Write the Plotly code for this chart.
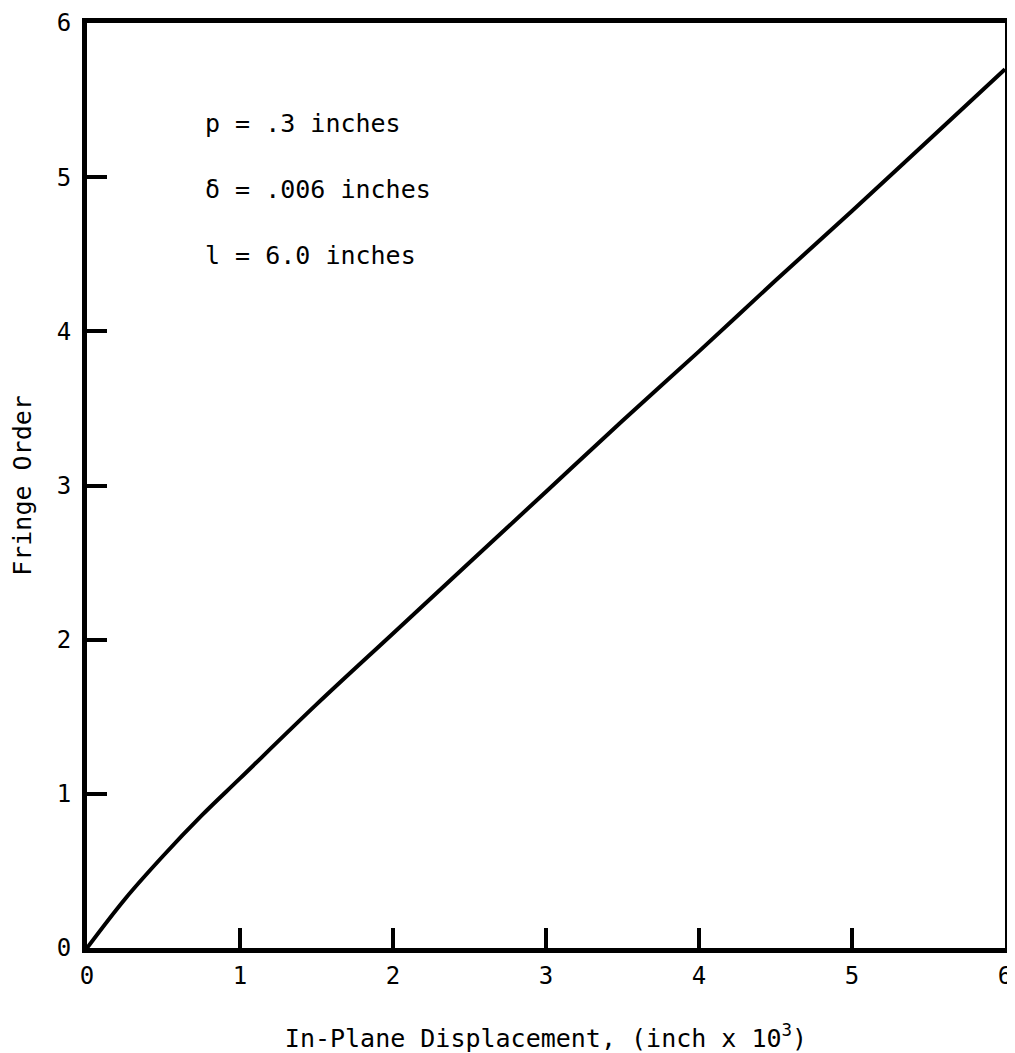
import plotly.graph_objects as go

# Data
displacement = [0, 0.25, 0.5, 0.75, 1.0, 1.5, 2.0, 2.5, 3.0, 3.5, 4.0, 4.5, 5.0, 5.5, 6.0]
fringe_order = [0, 0.32, 0.60, 0.86, 1.10, 1.58, 2.04, 2.50, 2.96, 3.42, 3.87, 4.33, 4.78, 5.24, 5.70]

x_ticks = [0, 1, 2, 3, 4, 5, 6]
x_tick_labels = ["0", "1", "2", "3", "4", "5", "6"]
y_ticks = [0, 1, 2, 3, 4, 5, 6]
y_tick_labels = ["0", "1", "2", "3", "4", "5", "6"]

notes = ["p = .3 inches", "δ = .006 inches", "l = 6.0 inches"]
note_y = [5.35, 4.92, 4.49]

FONT = "DejaVu Sans Mono"

fig = go.Figure()
fig.add_trace(go.Scatter(x=displacement, y=fringe_order, mode="lines",
                         line=dict(color="black", width=4, shape="spline"),
                         showlegend=False))

for t, yy in zip(notes, note_y):
    fig.add_annotation(x=0.76, y=yy, xref="x", yref="y", text=t, showarrow=False,
                       xanchor="left", yanchor="middle",
                       font=dict(family=FONT, size=25, color="black"))

axis_common = dict(showline=True, linecolor="black", linewidth=5, mirror=True,
                   ticks="inside", ticklen=20, tickwidth=4, tickcolor="black",
                   showgrid=False, zeroline=False, ticklabeloverflow="allow",
                   tickfont=dict(family=FONT, size=24, color="black"))

fig.update_xaxes(range=[0, 6], tickvals=x_ticks, ticktext=x_tick_labels,
                 ticklabelstandoff=2,
                 title=dict(text="In-Plane Displacement, (inch x 10<sup>3</sup>)",
                            font=dict(family=FONT, size=25, color="black"), standoff=48),
                 **axis_common)
fig.update_yaxes(range=[0, 6], tickvals=y_ticks, ticktext=y_tick_labels,
                 ticklabelstandoff=6,
                 title=dict(text="Fringe Order",
                            font=dict(family=FONT, size=25, color="black"), standoff=20),
                 **axis_common)

# The page body adds an 8 px offset, so the figure is sized to fill the rest of the window.
fig.update_layout(width=1007, height=1045,
                  margin=dict(l=79, r=10, t=15, b=105, autoexpand=False),
                  plot_bgcolor="white", paper_bgcolor="white")

fig.write_html("out.html")
